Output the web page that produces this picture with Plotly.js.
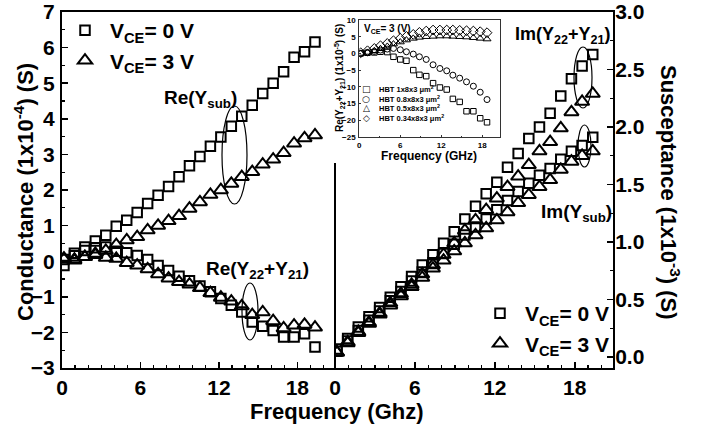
<!DOCTYPE html>
<html><head><meta charset="utf-8">
<script src="https://cdn.plot.ly/plotly-3.0.1.min.js"></script>
<style>html,body{margin:0;padding:0;background:#fff;}#chart{width:706px;height:430px;}</style>
</head><body><div id="chart"></div>
<script>
// ---- main chart data (GHz) ----
const freq = [0.15, 0.95, 1.75, 2.55, 3.35, 4.15, 4.95, 5.75, 6.55, 7.35, 8.15, 8.95, 9.75, 10.55, 11.35, 12.15, 12.95, 13.75, 14.55, 15.35, 16.15, 16.95, 17.75, 18.55, 19.35];
// Conductance (1e-4 S)
const reYsubV0 = [0.05, 0.22, 0.40, 0.57, 0.73, 0.98, 1.15, 1.37, 1.62, 1.85, 2.10, 2.37, 2.68, 2.94, 3.23, 3.49, 3.79, 4.07, 4.38, 4.71, 5.00, 5.32, 5.73, 5.88, 6.16];
const reYsubV3 = [0.08, 0.05, 0.12, 0.21, 0.30, 0.46, 0.59, 0.68, 0.87, 1.00, 1.13, 1.27, 1.48, 1.66, 1.87, 2.00, 2.18, 2.37, 2.51, 2.72, 2.86, 3.04, 3.31, 3.46, 3.54];
const reY22Y21V0 = [-0.12, 0.15, 0.30, 0.38, 0.40, 0.28, 0.24, 0.16, 0.05, -0.12, -0.26, -0.42, -0.55, -0.70, -0.86, -1.05, -1.24, -1.43, -1.71, -1.83, -1.95, -2.13, -2.13, -2.04, -2.41];
const reY22Y21V3 = [0.05, 0.02, 0.12, 0.18, 0.10, 0.07, -0.05, -0.12, -0.22, -0.36, -0.48, -0.58, -0.65, -0.75, -0.89, -1.02, -1.13, -1.26, -1.51, -1.43, -1.68, -1.88, -1.80, -1.78, -1.86];
// Susceptance (1e-3 S)
const imY22Y21V0 = [0.07, 0.16, 0.26, 0.35, 0.43, 0.52, 0.61, 0.70, 0.80, 0.89, 0.99, 1.09, 1.20, 1.31, 1.42, 1.52, 1.65, 1.77, 1.90, 2.00, 2.12, 2.27, 2.42, 2.53, 2.63];
const imY22Y21V3 = [0.04, 0.13, 0.22, 0.30, 0.38, 0.47, 0.55, 0.63, 0.72, 0.80, 0.89, 0.99, 1.10, 1.19, 1.28, 1.38, 1.48, 1.57, 1.67, 1.79, 1.87, 1.99, 2.13, 2.22, 2.29];
const imYsubV0 = [0.05, 0.14, 0.23, 0.32, 0.40, 0.49, 0.57, 0.66, 0.74, 0.82, 0.90, 0.98, 1.06, 1.13, 1.20, 1.28, 1.36, 1.44, 1.51, 1.58, 1.64, 1.72, 1.79, 1.84, 1.91];
const imYsubV3 = [0.04, 0.12, 0.21, 0.29, 0.37, 0.45, 0.53, 0.61, 0.69, 0.77, 0.84, 0.92, 0.99, 1.06, 1.12, 1.19, 1.26, 1.34, 1.41, 1.48, 1.54, 1.63, 1.70, 1.75, 1.79];

// ---- inset data: Re(Y22+Y21) (1e-5 S), VCE = 3 V ----
const insetFreq = [0.2, 1.2, 2.2, 3.1, 4.1, 5.0, 6.0, 6.9, 7.9, 8.8, 9.8, 10.8, 11.8, 12.8, 13.7, 14.7, 15.7, 16.7, 17.7, 18.7];
const hbt1 = [0.0, 0.2, 0.3, 0.5, 0.4, -1.0, -1.8, -2.2, -5.0, -6.4, -6.8, -8.9, -10.2, -10.8, -13.6, -14.5, -17.3, -17.3, -19.4, -20.6];
const hbt08 = [0.0, 0.2, 0.6, 1.0, 1.3, 1.5, 1.1, 0.5, -0.2, -1.0, -1.8, -3.4, -4.5, -5.2, -6.5, -7.4, -8.5, -9.8, -11.6, -13.8];
const hbt05 = [0.0, 0.3, 0.8, 1.4, 2.1, 2.8, 3.4, 4.0, 4.5, 4.8, 5.0, 5.1, 5.2, 5.2, 5.1, 5.0, 4.9, 4.7, 4.5, 4.3];
const hbt034 = [0.2, 0.8, 1.5, 2.3, 3.0, 3.8, 4.5, 5.1, 5.7, 6.3, 6.7, 7.0, 7.0, 7.0, 7.0, 6.9, 6.8, 6.7, 6.5, 6.2];

const legendNames = ['V<sub>CE</sub>= 0 V', 'V<sub>CE</sub>= 3 V'];
const insetNames = ['HBT 1x8x3 \u03bcm<sup>2</sup>', 'HBT 0.8x8x3 \u03bcm<sup>2</sup>', 'HBT 0.5x8x3 \u03bcm<sup>2</sup>', 'HBT 0.34x8x3 \u03bcm<sup>2</sup>'];
const insetSymbols = ['\u25A1', '\u25CB', '\u25B3', '\u25C7'];

const W = 706, H = 430;
const px = x => x / W;
const py = y => 1 - y / H;

const sq = {symbol: 'square-open', size: 9.5, color: 'black', line: {width: 2, color: 'black'}};
const tri = {symbol: 'triangle-up-open', size: 12.5, color: 'black', line: {width: 2, color: 'black'}};
function mk(x, y, m, xa, ya, extra) {
  return Object.assign({x: x, y: y, type: 'scatter', mode: 'markers', marker: m, xaxis: xa, yaxis: ya, showlegend: false, hoverinfo: 'skip'}, extra || {});
}
const small = (s, sz) => ({symbol: s, size: sz, color: 'black', line: {width: 1, color: 'black'}});

const traces = [
  mk(freq, reYsubV0, sq, 'x', 'y', {name: legendNames[0], showlegend: true, legend: 'legend'}),
  mk(freq, reYsubV3, tri, 'x', 'y', {name: legendNames[1], showlegend: true, legend: 'legend'}),
  mk(freq, reY22Y21V0, sq, 'x', 'y'),
  mk(freq, reY22Y21V3, tri, 'x', 'y'),
  mk(freq, imY22Y21V0, sq, 'x2', 'y2', {name: legendNames[0], showlegend: true, legend: 'legend2'}),
  mk(freq, imY22Y21V3, tri, 'x2', 'y2', {name: legendNames[1], showlegend: true, legend: 'legend2'}),
  mk(freq, imYsubV0, sq, 'x2', 'y2'),
  mk(freq, imYsubV3, tri, 'x2', 'y2'),
  mk(insetFreq, hbt1, small('square-open', 5.5), 'x3', 'y3'),
  mk(insetFreq, hbt08, small('circle-open', 6), 'x3', 'y3'),
  mk(insetFreq, hbt05, small('triangle-up-open', 7), 'x3', 'y3'),
  mk(insetFreq, hbt034, small('diamond-open', 7.5), 'x3', 'y3')
];

const FONT = 'Liberation Sans, Arial, Helvetica, sans-serif';
const axBase = {showgrid: false, zeroline: false, showline: true, linecolor: 'black', linewidth: 2,
  ticks: 'inside', tickcolor: 'black', tickwidth: 1.5, ticklen: 6,
  tickfont: {family: FONT, size: 21, color: 'black', weight: 'bold'}, fixedrange: true};

const mainXminor = {ticks: 'inside', ticklen: 3, dtick: 1, tickwidth: 1.3, tickcolor: 'black'};

const layout = {
  width: W, height: H, autosize: false,
  margin: {l: 0, r: 0, t: 0, b: 0, pad: 0},
  paper_bgcolor: 'white', plot_bgcolor: 'white',
  font: {family: FONT, color: 'black', weight: 'bold'},
  xaxis: Object.assign({}, axBase, {domain: [px(62), px(335)], range: [0, 20.88], anchor: 'y', mirror: true,
    tickvals: [0, 6, 12, 18], minor: mainXminor}),
  yaxis: Object.assign({}, axBase, {domain: [py(368), py(12)], range: [-3, 7], anchor: 'x', dtick: 1, tick0: 0,
    ticklabelstandoff: 1, minor: {ticks: 'inside', ticklen: 3, dtick: 0.5, tickwidth: 1.3, tickcolor: 'black'}}),
  xaxis2: Object.assign({}, axBase, {domain: [px(335), px(613)], range: [0, 20.87], anchor: 'y2', mirror: true,
    tickvals: [0, 6, 12, 18], minor: mainXminor}),
  yaxis2: Object.assign({}, axBase, {domain: [py(368), py(12)], range: [-0.0957, 3.0], anchor: 'x2', side: 'right',
    tickvals: [0, 0.5, 1, 1.5, 2, 2.5, 3], ticktext: ['0.0', '0.5', '1.0', '1.5', '2.0', '2.5', '3.0'], ticklabelstandoff: -4,
    minor: {ticks: 'inside', ticklen: 3, dtick: 0.25, tickwidth: 1.3, tickcolor: 'black'}}),
  xaxis3: {domain: [px(359.3), px(500)], range: [0, 20.6], anchor: 'y3', showgrid: false, zeroline: false,
    showline: true, mirror: true, linecolor: '#333', linewidth: 1, ticks: 'inside', ticklen: 2, tickwidth: 1, tickcolor: '#333',
    tickvals: [0, 6, 12, 18], tickfont: {family: FONT, size: 8, color: 'black', weight: 'bold'}, fixedrange: true,
    minor: {ticks: 'inside', ticklen: 1.5, dtick: 3, tickcolor: '#333'}},
  yaxis3: {domain: [py(137), py(20)], range: [-25, 10], anchor: 'x3', showgrid: false, zeroline: false,
    showline: true, mirror: true, linecolor: '#333', linewidth: 1, ticks: 'inside', ticklen: 2, tickwidth: 1, tickcolor: '#333',
    dtick: 5, tick0: 0, ticklabelstandoff: 1, tickfont: {family: FONT, size: 8, color: 'black', weight: 'bold'}, fixedrange: true},
  legend: {x: px(60), y: py(10), xanchor: 'left', yanchor: 'top', bgcolor: 'rgba(0,0,0,0)', borderwidth: 0,
    itemwidth: 40, font: {family: FONT, size: 21, color: 'black', weight: 'bold'}, tracegroupgap: 0},
  legend2: {x: px(475), y: py(293), xanchor: 'left', yanchor: 'top', bgcolor: 'rgba(0,0,0,0)', borderwidth: 0,
    itemwidth: 40, font: {family: FONT, size: 21, color: 'black', weight: 'bold'}, tracegroupgap: 0},
  shapes: [
    // divider between the two panels
    {type: 'line', xref: 'paper', yref: 'paper', x0: px(335), x1: px(335), y0: py(368), y1: py(163), line: {color: 'black', width: 2}},
    // ellipses grouping curves
    {type: 'circle', xref: 'paper', yref: 'paper', x0: px(222), x1: px(247), y0: py(204), y1: py(106), line: {color: 'black', width: 1.2}},
    {type: 'circle', xref: 'paper', yref: 'paper', x0: px(242), x1: px(258), y0: py(340), y1: py(283), line: {color: 'black', width: 1.2}},
    {type: 'circle', xref: 'paper', yref: 'paper', x0: px(574), x1: px(592), y0: py(108), y1: py(47), line: {color: 'black', width: 1.2}},
    {type: 'circle', xref: 'paper', yref: 'paper', x0: px(578), x1: px(591), y0: py(167), y1: py(125), line: {color: 'black', width: 1.2}}
  ],
  annotations: []
};

function ann(text, x, y, size, opts) {
  layout.annotations.push(Object.assign({text: text, x: px(x), y: py(y), xref: 'paper', yref: 'paper', showarrow: false,
    xanchor: 'center', yanchor: 'middle', font: {family: FONT, size: size, color: 'black', weight: 'bold'}}, opts || {}));
}
ann('Conductance (1x10<sup>-4</sup>) (S)', 24, 192, 22, {textangle: -90});
ann('Susceptance (1x10<sup>-3</sup>) (S)', 670, 192, 22, {textangle: 90});
ann('Frequency (Ghz)', 337, 411, 22);
ann('Re(Y<sub>sub</sub>)', 200, 99, 19);
ann('Re(Y<sub>22</sub>+Y<sub>21</sub>)', 257, 270, 19);
ann('Im(Y<sub>22</sub>+Y<sub>21</sub>)', 563, 35, 18);
ann('Im(Y<sub>sub</sub>)', 576, 213, 19);
// inset texts
ann('Re(Y<sub>22</sub>+Y<sub>21</sub>) (1x10<sup>-5</sup>) (S)', 339, 78, 10, {textangle: -90});
ann('Frequency (GHz)', 429, 156, 12);
ann('V<sub>CE</sub>= 3 (V)', 362, 29, 10, {xanchor: 'left'});
const legY = [89, 98.5, 108, 117.5];
for (let i = 0; i < 4; i++) {
  ann(insetSymbols[i], 366, legY[i], 9, {font: {family: 'DejaVu Sans', size: 9, color: 'black'}});
  ann(insetNames[i], 377, legY[i], 7.5, {xanchor: 'left'});
}

Plotly.newPlot('chart', traces, layout, {staticPlot: true, displayModeBar: false});
</script>
</body></html>
